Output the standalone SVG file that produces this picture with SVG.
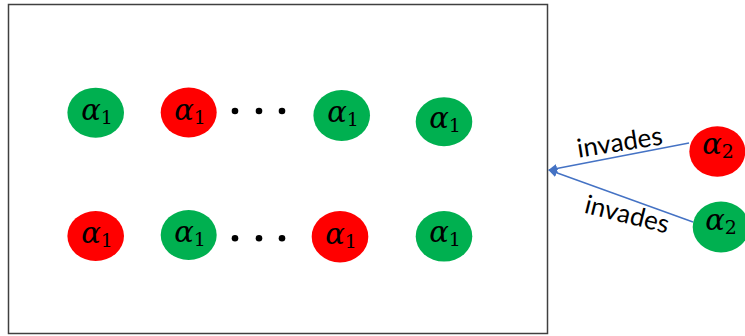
<svg xmlns="http://www.w3.org/2000/svg" width="745" height="336" viewBox="0 0 745 336">
<style>
.g{fill:#00B050}
.r{fill:#FF0000}
.a{font-family:"DejaVu Serif","Liberation Serif",serif;font-size:29px;fill:#000;text-anchor:middle}
.a .s{font-style:normal;font-size:19px}
.dot{fill:#000}
.lbl{font-family:Lato,"Open Sans",sans-serif;font-size:26px;fill:#000;text-anchor:middle}
.edge{stroke:#4472C4;stroke-width:1.4;fill:none}
</style>
<defs>
<marker id="arr" viewBox="0 0 10 10" refX="9" refY="5" markerWidth="9" markerHeight="9" markerUnits="userSpaceOnUse" orient="auto">
<path d="M0,0 L10,5 L0,10 z" fill="#4472C4"/>
</marker>
</defs>
<rect x="8.5" y="4.5" width="539" height="329" fill="#fff" stroke="#404040" stroke-width="1.5"/>
<g id="n1"><ellipse class="g" cx="95.7" cy="112.7" rx="28.3" ry="25"/><text class="a" x="97" y="120"><tspan font-style="italic">α</tspan><tspan class="s" dy="4">1</tspan></text></g>
<g id="n2"><ellipse class="r" cx="188.7" cy="112.5" rx="28" ry="25"/><text class="a" x="190" y="120"><tspan font-style="italic">α</tspan><tspan class="s" dy="4">1</tspan></text></g>
<g id="dots1"><circle class="dot" cx="235" cy="111" r="3.3"/><circle class="dot" cx="259" cy="111" r="3.3"/><circle class="dot" cx="282" cy="111" r="3.3"/></g>
<g id="n3"><ellipse class="g" cx="341.7" cy="115.5" rx="28.3" ry="25.5"/><text class="a" x="343" y="122"><tspan font-style="italic">α</tspan><tspan class="s" dy="4">1</tspan></text></g>
<g id="n4"><ellipse class="g" cx="444" cy="121.7" rx="28.3" ry="24.5"/><text class="a" x="445" y="128"><tspan font-style="italic">α</tspan><tspan class="s" dy="4">1</tspan></text></g>
<g id="n5"><ellipse class="r" cx="95.7" cy="236" rx="28.3" ry="25"/><text class="a" x="97" y="243"><tspan font-style="italic">α</tspan><tspan class="s" dy="4">1</tspan></text></g>
<g id="n6"><ellipse class="g" cx="188.7" cy="235" rx="28" ry="25"/><text class="a" x="190" y="242"><tspan font-style="italic">α</tspan><tspan class="s" dy="4">1</tspan></text></g>
<g id="dots2"><circle class="dot" cx="235" cy="238.3" r="3.3"/><circle class="dot" cx="259" cy="238.3" r="3.3"/><circle class="dot" cx="282" cy="238.3" r="3.3"/></g>
<g id="n7"><ellipse class="r" cx="340" cy="236.7" rx="28.3" ry="25.7"/><text class="a" x="341" y="244"><tspan font-style="italic">α</tspan><tspan class="s" dy="4">1</tspan></text></g>
<g id="n8"><ellipse class="g" cx="444" cy="236.3" rx="28.3" ry="25.3"/><text class="a" x="445" y="242"><tspan font-style="italic">α</tspan><tspan class="s" dy="4">1</tspan></text></g>
<g id="n9"><ellipse class="r" cx="717.3" cy="151.5" rx="28" ry="25.3"/><text class="a" x="718" y="154"><tspan font-style="italic">α</tspan><tspan class="s" dy="4">2</tspan></text></g>
<g id="n10"><ellipse class="g" cx="721" cy="227" rx="28.3" ry="25.5"/><text class="a" x="721" y="230"><tspan font-style="italic">α</tspan><tspan class="s" dy="4">2</tspan></text></g>
<g id="connectors">
<line class="edge" x1="689" y1="143" x2="549" y2="170" marker-end="url(#arr)"/>
<line class="edge" x1="693" y1="222" x2="549" y2="170" marker-end="url(#arr)"/>
<text class="lbl" transform="translate(621,151) rotate(-9)">invades</text>
<text class="lbl" transform="translate(625,223) rotate(14)">invades</text>
</g>
</svg>
